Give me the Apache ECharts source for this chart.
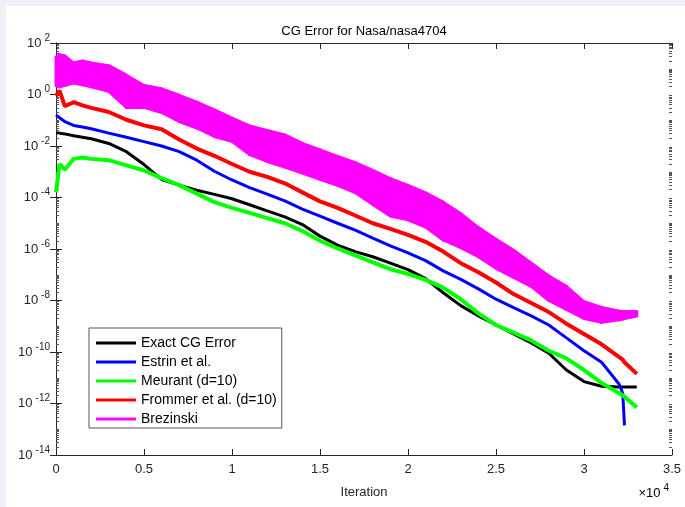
<!DOCTYPE html>
<html><head><meta charset="utf-8">
<script src="https://cdn.jsdelivr.net/npm/echarts@6/dist/echarts.min.js"></script>
<style>html,body{margin:0;padding:0;background:#f0f0fa;overflow:hidden;}#c{position:absolute;left:6px;top:6px;width:679px;height:501px;background:#fff;}</style>
</head><body><div id="c"></div>
<script>
// ---- data (values are log10 of the error) ----
const iterations = [0,200,500,1000,1500,2000,3000,4000,5000,6000,7000,8000,9000,10000,11000,12000,13000,14000,15000,16000,17000,18000,19000,20000,21000,22000,23000,24000,25000,26000,27000,28000,29000,30000,31000,32000,32200,32300,33000];
const exactLog = [-1.48,-1.5,-1.53,-1.6,-1.66,-1.72,-1.9,-2.22,-2.72,-3.3,-3.52,-3.72,-3.88,-4.05,-4.28,-4.52,-4.75,-5.05,-5.5,-5.85,-6.1,-6.3,-6.55,-6.8,-7.15,-7.7,-8.2,-8.6,-8.95,-9.3,-9.65,-10.05,-10.7,-11.15,-11.33,-11.36,-11.36,-11.36,-11.36];
const estrinLog = [-0.8,-0.9,-1.05,-1.2,-1.26,-1.33,-1.5,-1.66,-1.83,-2.0,-2.22,-2.55,-2.98,-3.32,-3.62,-3.87,-4.13,-4.45,-4.72,-5.0,-5.27,-5.58,-5.88,-6.15,-6.45,-6.85,-7.18,-7.55,-7.95,-8.28,-8.6,-8.95,-9.45,-9.95,-10.4,-11.25,-11.6,-12.85,null];
const meurantLog = [-3.8,-2.7,-2.92,-2.5,-2.45,-2.5,-2.55,-2.75,-2.95,-3.25,-3.52,-3.85,-4.18,-4.4,-4.6,-4.8,-5.0,-5.3,-5.68,-5.98,-6.25,-6.52,-6.78,-6.97,-7.2,-7.5,-7.95,-8.5,-8.95,-9.25,-9.55,-9.95,-10.25,-10.7,-11.2,-11.6,-11.68,-11.72,-12.15];
const frommerLog = [-0.05,0.15,-0.45,-0.3,-0.42,-0.52,-0.68,-0.98,-1.2,-1.35,-1.75,-2.1,-2.38,-2.7,-3.0,-3.2,-3.45,-3.8,-4.15,-4.4,-4.7,-5.0,-5.22,-5.45,-5.72,-6.1,-6.55,-6.9,-7.3,-7.75,-8.1,-8.45,-8.9,-9.3,-9.7,-10.2,-10.3,-10.4,-10.85];
const brezinskiTopLog = [1.45,1.55,1.5,1.22,1.3,1.22,1.12,0.75,0.35,0.22,-0.03,-0.3,-0.6,-0.92,-1.22,-1.4,-1.57,-1.9,-2.15,-2.4,-2.65,-2.95,-3.27,-3.53,-3.82,-4.18,-4.63,-5.17,-5.62,-6.05,-6.55,-7.05,-7.45,-8.05,-8.27,-8.42,-8.43,-8.43,-8.43];
const brezinskiBottomLog = [0.35,0.3,0.35,0.45,0.38,0.3,0.12,-0.5,-0.5,-0.7,-1.05,-1.3,-1.63,-1.82,-2.33,-2.6,-2.82,-3.05,-3.29,-3.53,-3.81,-4.27,-4.72,-4.87,-5.15,-5.65,-5.95,-6.3,-6.75,-7.1,-7.45,-8.0,-8.35,-8.7,-8.85,-8.75,-8.72,-8.7,-8.6];
const seriesNames = ['Exact CG Error','Estrin et al.','Meurant (d=10)','Frommer et al. (d=10)','Brezinski'];
const seriesColors = ['#000000','#0000ff','#00ff00','#ff0000','#ff00ff'];
const xTickLabels = ['0','0.5','1','1.5','2','2.5','3','3.5'];
const yLabelExponents = [2,0,-2,-4,-6,-8,-10,-12,-14];

// ---- build ----
const FONT = '"Liberation Sans", Arial, Helvetica, sans-serif';
const TXT = '#262626';
const pw = e => (e === null ? null : Math.pow(10, e));
const pairs = arr => iterations.map((it, i) => arr[i] === null ? null : [it, pw(arr[i])]).filter(d => d);

const majorY = [];
for (let k = -14; k <= 2; k += 2) majorY.push(Math.pow(10, k));
const minorY = [];
for (let k = -14; k <= 1; k++) {
  if (k % 2 !== 0) minorY.push(Math.pow(10, k));
  for (let m = 2; m <= 9; m++) minorY.push(m * Math.pow(10, k));
}
const labelY = yLabelExponents.map(e => Math.pow(10, e));

const bandData = [];
for (let i = 0; i < iterations.length - 1; i++) {
  bandData.push([iterations[i], pw(brezinskiTopLog[i]), pw(brezinskiBottomLog[i]),
                 iterations[i+1], pw(brezinskiTopLog[i+1]), pw(brezinskiBottomLog[i+1])]);
}

const chart = echarts.init(document.getElementById('c'), null, {renderer: 'canvas'});
const yBase = {
  type: 'log', logBase: 10, min: 1e-14, max: 1e2, offset: 0,
  splitLine: {show: false}, axisLabel: {show: false}
};
const option = {
  animation: false,
  grid: {left: 50, top: 37, right: 13, bottom: 52, containLabel: false},
  graphic: [
    {type: 'text', x: 358, y: 25, style: {text: 'CG Error for Nasa/nasa4704', fontSize: 13, fontFamily: FONT, fill: '#000', align: 'center', verticalAlign: 'middle'}},
    {type: 'text', x: 663, y: 487, style: {text: '{a|×10}{b|4}', align: 'right', verticalAlign: 'middle',
      rich: {a: {fontSize: 13, fontFamily: FONT, color: TXT, lineHeight: 20}, b: {fontSize: 10, fontFamily: FONT, color: TXT, lineHeight: 10, verticalAlign: 'top', padding: [0,0,0,3]}}}}
  ],
  xAxis: [
    {type: 'value', position: 'bottom', min: 0, max: 35000, interval: 5000,
     name: 'Iteration', nameLocation: 'middle', nameGap: 31, nameTextStyle: {fontSize: 13, fontFamily: FONT, color: TXT},
     axisLine: {show: true, lineStyle: {color: TXT, width: 1}},
     axisTick: {show: true, inside: true, length: 6, lineStyle: {color: TXT}},
     axisLabel: {show: true, margin: 8, fontSize: 13, fontFamily: FONT, color: TXT, formatter: v => xTickLabels[Math.round(v / 5000)]},
     splitLine: {show: false}},
    {type: 'value', position: 'top', min: 0, max: 35000, interval: 5000,
     axisLine: {show: true, lineStyle: {color: TXT, width: 1}},
     axisTick: {show: true, inside: true, length: 6, lineStyle: {color: TXT}},
     axisLabel: {show: false}, splitLine: {show: false}}
  ],
  yAxis: [
    Object.assign({}, yBase, {position: 'left',
      axisLine: {show: true, lineStyle: {color: TXT, width: 1}},
      axisTick: {show: true, inside: true, length: 6, customValues: majorY, lineStyle: {color: TXT}},
      axisLabel: {show: true, inside: false, margin: 6, customValues: labelY,
        formatter: v => '{b|10}{e|' + Math.round(Math.log10(v)) + '}',
        rich: {b: {fontSize: 13, fontFamily: FONT, color: TXT, lineHeight: 20},
               e: {fontSize: 10, fontFamily: FONT, color: TXT, lineHeight: 10, verticalAlign: 'top', padding: [0,0,0,3]}}}}),
    Object.assign({}, yBase, {position: 'right',
      axisLine: {show: true, lineStyle: {color: TXT, width: 1}},
      axisTick: {show: true, inside: true, length: 6, customValues: majorY, lineStyle: {color: TXT}}}),
    Object.assign({}, yBase, {position: 'left',
      axisLine: {show: false},
      axisTick: {show: true, inside: true, length: 3, customValues: minorY, lineStyle: {color: '#555'}}}),
    Object.assign({}, yBase, {position: 'right',
      axisLine: {show: false},
      axisTick: {show: true, inside: true, length: 3, customValues: minorY, lineStyle: {color: '#555'}}})
  ],
  legend: {
    data: seriesNames.map(n => ({name: n, icon: 'rect'})),
    orient: 'vertical', left: 83, top: 322, itemWidth: 40, itemHeight: 3, itemGap: 5,
    padding: [8, 5, 2, 7], borderColor: '#555', borderWidth: 1, backgroundColor: '#fff',
    textStyle: {fontSize: 14, fontFamily: FONT, color: '#000'}, selectedMode: false
  },
  series: [
    {name: seriesNames[0], type: 'line', data: pairs(exactLog), showSymbol: false, lineStyle: {width: 3, color: seriesColors[0]}, itemStyle: {color: seriesColors[0]}},
    {name: seriesNames[1], type: 'line', data: pairs(estrinLog), showSymbol: false, lineStyle: {width: 3, color: seriesColors[1]}, itemStyle: {color: seriesColors[1]}},
    {name: seriesNames[2], type: 'line', data: pairs(meurantLog), showSymbol: false, lineStyle: {width: 4, color: seriesColors[2]}, itemStyle: {color: seriesColors[2]}},
    {name: seriesNames[3], type: 'line', data: pairs(frommerLog), showSymbol: false, lineStyle: {width: 4, color: seriesColors[3]}, itemStyle: {color: seriesColors[3]}},
    {name: seriesNames[4], type: 'custom', data: bandData, itemStyle: {color: seriesColors[4]},
     encode: {x: [0, 3], y: [1, 2, 4, 5]},
     renderItem: function (params, api) {
       const p1 = api.coord([api.value(0), api.value(1)]);
       const p2 = api.coord([api.value(3), api.value(4)]);
       const p3 = api.coord([api.value(3), api.value(5)]);
       const p4 = api.coord([api.value(0), api.value(2)]);
       return {type: 'polygon', shape: {points: [p1, p2, p3, p4]},
               style: {fill: seriesColors[4], stroke: seriesColors[4], lineWidth: 3, lineJoin: 'round'}};
     }}
  ]
};
chart.setOption(option);
</script></body></html>
